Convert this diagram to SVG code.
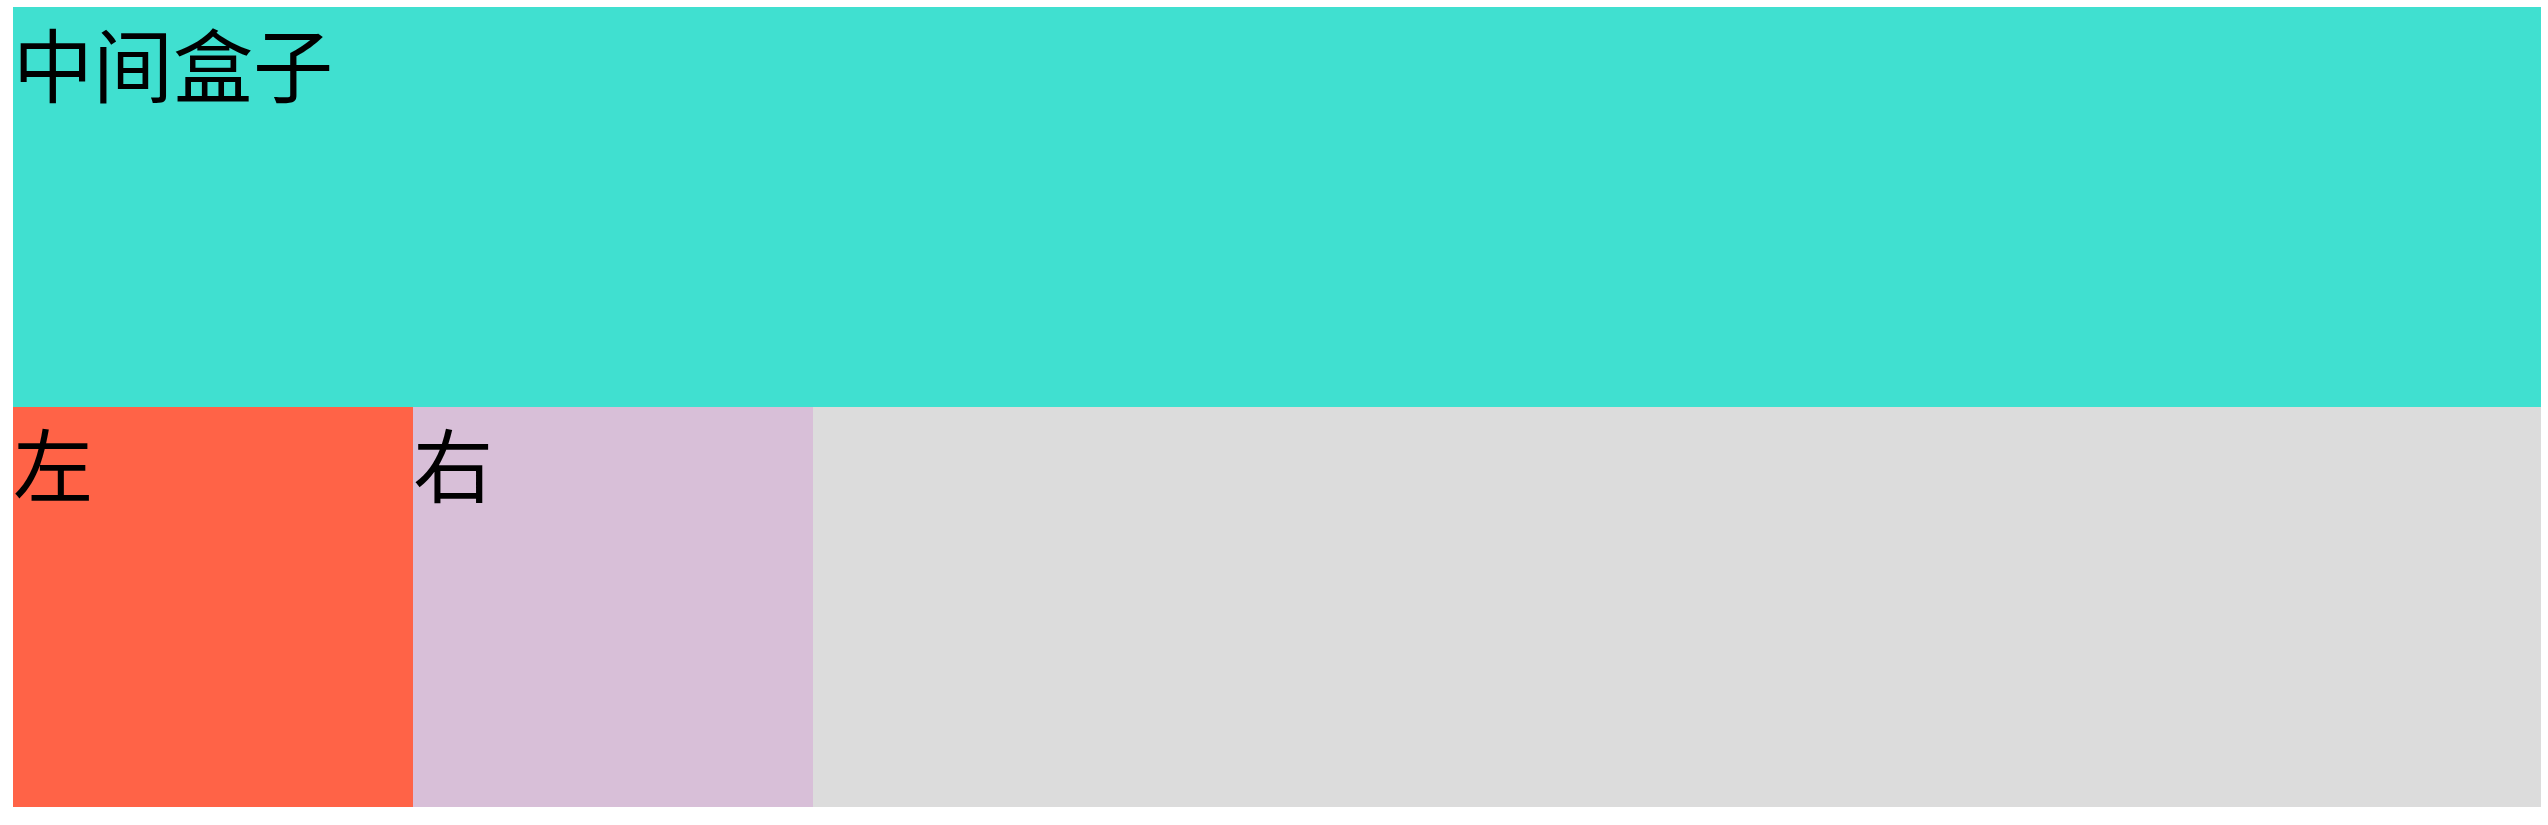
<svg xmlns="http://www.w3.org/2000/svg" width="2548" height="825" viewBox="0 0 2548 825">
<style>
text{font-family:"Noto Sans CJK SC","Noto Sans",sans-serif;font-size:80px;fill:#000}
</style>
<rect width="2548" height="825" fill="#fff"/>
<g id="middle"><rect x="13" y="7" width="2528" height="400" fill="#40e0d0"/><text x="13" y="96">中间盒子</text></g>
<g id="left"><rect x="13" y="407" width="400" height="400" fill="#ff6347"/><text x="13" y="496">左</text></g>
<g id="right"><rect x="413" y="407" width="400" height="400" fill="#d8bfd8"/><text x="413" y="496">右</text></g>
<g id="rest"><rect x="813" y="407" width="1728" height="400" fill="#dcdcdc"/></g>
<g id="connectors"/>
</svg>
